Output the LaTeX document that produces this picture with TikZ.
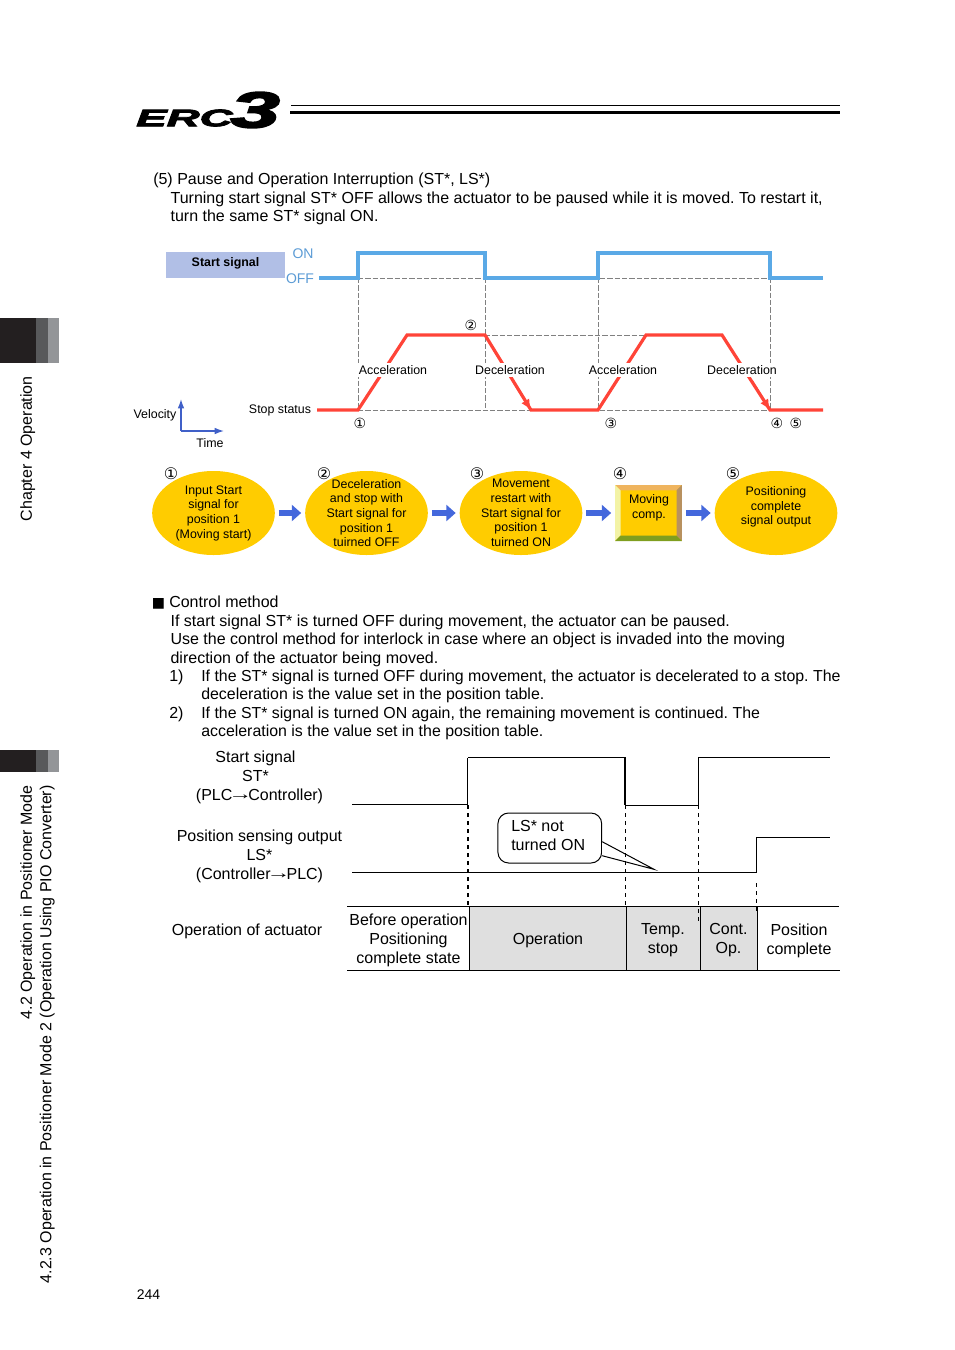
\documentclass[tikz,border=0pt]{standalone}
\usepackage{fontspec}
\setmainfont{Liberation Sans}
\newfontfamily\symfont{DejaVu Sans}
\newfontfamily\logofont[BoldItalicFeatures={FakeBold=3}]{Liberation Sans}
\frenchspacing
\newcommand{\sigarrow}{\mbox{\hspace{-3pt}\raisebox{0.8pt}{\scalebox{1.5}[1]{→}}\hspace{-3pt}}}
\usetikzlibrary{arrows.meta,positioning,calc,shapes.geometric}
\definecolor{SigBlue}{HTML}{5AA9E6}
\definecolor{SigRed}{HTML}{FF4438}
\definecolor{BoxBlue}{HTML}{B1BFE6}
\definecolor{OffBlue}{HTML}{5B9BD5}
\definecolor{AxisBlue}{HTML}{4060C8}
\definecolor{ArrowBlue}{HTML}{4468DC}
\definecolor{Yolk}{HTML}{FFCC00}
\definecolor{GuideGray}{HTML}{808080}
\definecolor{CellGray}{HTML}{DFDFDF}
\definecolor{TabDark}{HTML}{231F20}
\definecolor{TabMid}{HTML}{58595B}
\definecolor{TabLight}{HTML}{939598}
\definecolor{BevelTop}{HTML}{EFB45E}
\definecolor{BevelLeft}{HTML}{F3F3A6}
\definecolor{BevelRight}{HTML}{B8915F}
\definecolor{BevelLow}{HTML}{7F9E1F}
\tikzset{
 body/.style={inner sep=0pt, align=left, anchor=west, yshift=-1.5pt, font=\fontsize{12}{13.9}\selectfont},
 itemtext/.style={body, font=\fontsize{11.93}{13.9}\selectfont},
 sidetab/.style={inner sep=0pt, rotate=90, anchor=east, font=\fontsize{12}{13.9}\selectfont},
 cell/.style={inner sep=0pt, align=center, yshift=-1.5pt, font=\fontsize{12}{14.2}\selectfont},
 small/.style={inner sep=0pt, align=center, font=\fontsize{9.3}{11}\selectfont},
 phase/.style={small, fill=white, inner xsep=0.5pt, inner ysep=2pt},
 num/.style={inner sep=0pt, font=\symfont\fontsize{10.5}{12}\selectfont},
 stepoval/.style={small, ellipse, fill=Yolk, minimum width=92pt, minimum height=63pt, outer sep=0pt},
 fiveline/.style={stepoval, inner ysep=-4.5pt},
 flowarrow/.style={-{Triangle[length=7pt,width=12pt]}, line width=4.5pt, draw=ArrowBlue, shorten >=3pt, shorten <=3pt},
 blueline/.style={draw=SigBlue, line width=2.4pt},
 redline/.style={draw=SigRed, line width=2.4pt},
 guide/.style={draw=GuideGray, dash pattern=on 4pt off 1.5pt, line width=0.6pt},
 wave/.style={draw=black, line width=0.75pt},
 tick/.style={draw=black, dashed, line width=0.75pt}
}
\begin{document}
\begin{tikzpicture}[x=0.75pt,y=-0.75pt]
\useasboundingbox (0,0) rectangle (954,1350);
% side tabs
\fill[TabDark] (0,318) rectangle (36,363);
\fill[TabMid] (36,318) rectangle (48,363);
\fill[TabLight] (48,318) rectangle (59,363);
\fill[TabDark] (0,750) rectangle (36,772);
\fill[TabMid] (36,750) rectangle (48,772);
\fill[TabLight] (48,750) rectangle (59,772);
\node[sidetab] at (27.7,376) {Chapter 4 Operation};
\node[sidetab] at (27.7,785) {4.2 Operation in Positioner Mode};
\node[sidetab] at (47.2,785) {4.2.3 Operation in Positioner Mode 2 (Operation Using PIO Converter)};
% header
\node[inner sep=0pt,anchor=west,font=\logofont\bfseries\itshape\fontsize{18}{18}\selectfont] (logo) at (136,118) {\scalebox{1.9}[1]{ERC}};
\node[inner sep=0pt,anchor=east,font=\logofont\bfseries\itshape\fontsize{38}{38}\selectfont] (logothree) at (280,110) {\scalebox{1.75}[1]{3}};
\draw[line width=0.75pt] (291,105) -- (840,105);
\draw[line width=1.6pt] (290,112.5) -- (840,112.5);
% intro text
\node[body] (intro) at (153,197) {(5) Pause and Operation Interruption (ST*, LS*)\\
\hspace{13pt}Turning start signal ST* OFF allows the actuator to be paused while it is moved. To restart it,\\
\hspace{13pt}turn the same ST* signal ON.};
% start signal chart
\node[small,fill=BoxBlue,minimum width=89pt,minimum height=19.5pt] (startsig) at (225.5,265) {};
\node[small,font=\bfseries\fontsize{9.3}{11}\selectfont,yshift=1pt] at (startsig) {Start signal};
\node[inner sep=0pt,text=OffBlue,font=\fontsize{10.5}{12}\selectfont] (on) at (303,254) {ON};
\node[inner sep=0pt,text=OffBlue,font=\fontsize{10.5}{12}\selectfont] (off) at (300,279) {OFF};
\draw[guide] (358,278) -- (770,278);
\draw[guide] (358,410) -- (770,410);
\draw[guide] (485,335) -- (646,335);
\foreach \x in {358,485,598,770}{\draw[guide] (\x,278) -- (\x,410);}
\draw[blueline] (319,278) -- (358,278) -- (358,253) -- (485,253) -- (485,278) -- (598,278) -- (598,253) -- (770,253) -- (770,278) -- (823,278);
\draw[redline] (317,410) -- (358,410) -- (407,335) -- (485,335) -- (531,410) -- (598,410) -- (646,335) -- (722,335) -- (770,410) -- (823,410);
\draw[-{Latex[length=8pt,width=7pt]},draw=SigRed,line width=1.5pt] (513,381) -- (531,410);
\draw[-{Latex[length=8pt,width=7pt]},draw=SigRed,line width=1.5pt] (752,381) -- (770,410);
\foreach \x/\t in {393/Acceleration,510/Deceleration,623/Acceleration,742/Deceleration}{\node[phase] at (\x,370) {\t};}
\node[small] (stopst) at (280,410.5) {Stop status};
\foreach \x/\y/\t in {360/423/①,471/325/②,611/423/③,777/423/④,796/423/⑤}{\node[num] at (\x,\y) {\t};}
\node[small] (velocity) at (155,415) {Velocity};
\node[small] (timelab) at (210,443.5) {Time};
\coordinate (origin) at (181,431);
\draw[-{Latex[length=7pt,width=5pt]},draw=AxisBlue,line width=1pt] (origin) -- ++(0,-32);
\draw[-{Latex[length=7pt,width=5pt]},draw=AxisBlue,line width=1pt] (origin) -- ++(43,0);
% flow
\node[stepoval] (s1) at (213.5,513) {Input Start\\signal for\\position 1\\(Moving start)};
\node[fiveline] (s2) at (366.5,513) {Deceleration\\and stop with\\Start signal for\\position 1\\tuirned OFF};
\node[fiveline] (s3) at (521,513) {Movement\\restart with\\Start signal for\\position 1\\tuirned ON};
\node[small,fill=Yolk,minimum width=50pt,minimum height=42pt,outer sep=0pt] (s4) at (648.5,513) {};
\fill[BevelTop] (s4.north west) -- (s4.north east) -- ++(-4pt,-4pt) -- ($(s4.north west)+(4pt,-4pt)$) -- cycle;
\fill[BevelLeft] (s4.north west) -- (s4.south west) -- ++(4pt,4pt) -- ($(s4.north west)+(4pt,-4pt)$) -- cycle;
\fill[BevelRight] (s4.north east) -- (s4.south east) -- ++(-4pt,4pt) -- ($(s4.north east)+(-4pt,-4pt)$) -- cycle;
\fill[BevelLow] (s4.south west) -- (s4.south east) -- ++(-4pt,4pt) -- ($(s4.south west)+(4pt,4pt)$) -- cycle;
\node[small] at (649,508) {Moving\\comp.};
\node[stepoval] (s5) at (776,513) {Positioning\\complete\\signal output\\\mbox{}};
\draw[flowarrow] (s1) -- (s2);
\draw[flowarrow] (s2) -- (s3);
\draw[flowarrow] (s3) -- (s4);
\draw[flowarrow] (s4) -- (s5);
\foreach \x/\t in {171/①,324/②,477/③,620/④,733/⑤}{\node[num,font=\symfont\fontsize{12}{12}\selectfont] at (\x,474) {\t};}
% control method
\node[body] (ctrl) at (153,629.5) {\makebox[12pt][l]{\hspace*{-1pt}\symfont\fontsize{10.5}{10}\selectfont ■}Control method\\
\hspace{13pt}If start signal ST* is turned OFF during movement, the actuator can be paused.\\
\hspace{13pt}Use the control method for interlock in case where an object is invaded into the moving\\
\hspace{13pt}direction of the actuator being moved.};
\node[itemtext] (item1) at (201,684.5) {If the ST* signal is turned OFF during movement, the actuator is decelerated to a stop. The\\deceleration is the value set in the position table.};
\node[itemtext] (item2) at (201,721.5) {If the ST* signal is turned ON again, the remaining movement is continued. The\\acceleration is the value set in the position table.};
\node[body] (n1) at (169,675.5) {1)};
\node[body] (n2) at (169,712.5) {2)};
% timing chart
\node[cell] (stlab) at (259.5,775.5) {Start signal\hspace*{6pt}\\\mbox{ST*\hspace{6pt}}\\(PLC\sigarrow Controller)};
\node[cell] (lslab) at (259.5,854) {Position sensing output\\LS*\\(Controller\sigarrow PLC)};
\node[cell] (oplab) at (247,929) {Operation of actuator};
\fill[CellGray] (469.3,906) rectangle (757.3,970);
\draw[wave] (352,804) -- (467.7,804) -- (467.7,757.5);
\draw[wave,line width=1.4pt] (467.7,757.5) -- (625.3,757.5) -- (625.3,805);
\draw[wave] (625.3,805) -- (698.3,805) -- (698.3,757.5) -- (830,757.5);
\draw[wave] (352,872.7) -- (756.7,872.7) -- (756.7,837.3) -- (830,837.3);
\node[cell,yshift=1.5pt,draw=black,line width=0.75pt,fill=white,rounded corners=8pt,minimum width=77.8pt,minimum height=37.5pt] (lsnote) at (549.8,838) {};
\node[cell,align=left,anchor=west,yshift=1pt] (lstext) at (511,834.5) {LS* not\\turned ON};
\coordinate (tailtop) at ($(lsnote.east)+(0,3.7)$);
\coordinate (tailbot) at ($(lsnote.east)+(0,17.7)$);
\coordinate (tailtip) at (654,869.3);
\fill[white] (tailtop) -- (tailtip) -- (tailbot) -- cycle;
\draw[wave] (tailtop) -- (tailtip) -- (tailbot);
\draw[tick,line width=1.2pt] (467.7,805) -- (467.7,906);
\draw[tick] (625.7,805) -- (625.7,906);
\draw[tick] (698.3,805) -- (698.3,921);
\draw[tick] (756.7,883) -- (756.7,911);
\draw[wave] (347,906) -- (839,906);
\draw[wave] (347,970) -- (840,970);
\foreach \x in {469.3,626.3,700.3,757.3}{\draw[wave] (\x,906) -- (\x,970);}
\node[cell] (before) at (408.5,938) {Before operation\\Positioning\\complete state};
\node[cell] (oper) at (548,938) {Operation};
\node[cell] (temp) at (663,938.5) {Temp.\\stop};
\node[cell] (cont) at (728.5,938.5) {Cont.\\Op.};
\node[cell] (pos) at (799,938.5) {Position\\complete};
\node[inner sep=0pt,font=\fontsize{10.5}{12}\selectfont] (pageno) at (148.5,1294.5) {244};
\end{tikzpicture}
\end{document}
